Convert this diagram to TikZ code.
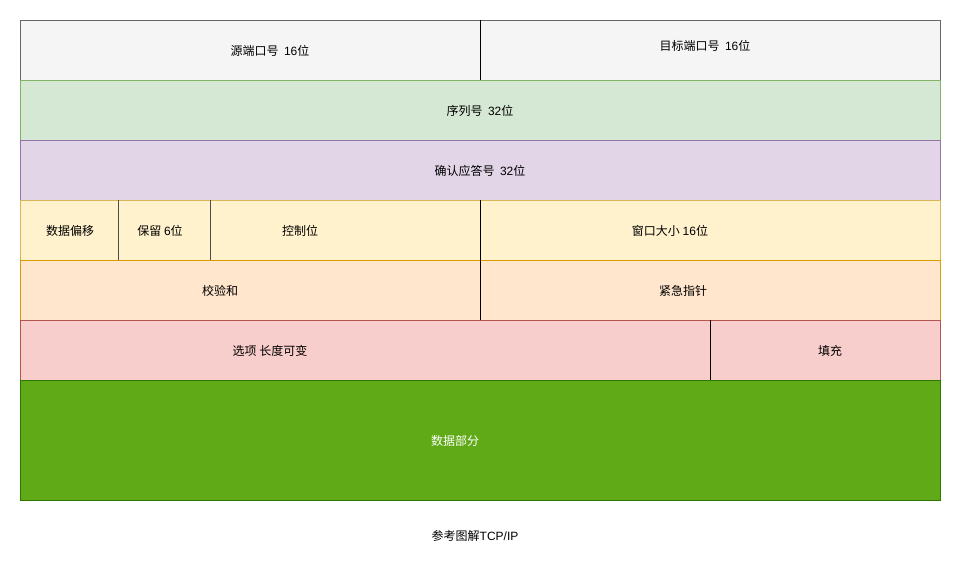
\documentclass[tikz,border=0pt]{standalone}
\usepackage{fontspec}
\setmainfont{Noto Sans CJK SC}
\newfontfamily\lat{Liberation Sans}
\definecolor{grayF}{HTML}{F5F5F5}\definecolor{grayS}{HTML}{666666}
\definecolor{greenF}{HTML}{D5E8D4}\definecolor{greenS}{HTML}{82B366}
\definecolor{purF}{HTML}{E1D5E7}\definecolor{purS}{HTML}{9673A6}
\definecolor{yelF}{HTML}{FFF2CC}\definecolor{yelS}{HTML}{D6B656}
\definecolor{orF}{HTML}{FFE6CC}\definecolor{orS}{HTML}{D79B00}
\definecolor{redF}{HTML}{F8CECC}\definecolor{redS}{HTML}{B85450}
\definecolor{dataF}{HTML}{60A917}\definecolor{dataS}{HTML}{2D7600}
\begin{document}
\begin{tikzpicture}[x=1pt,y=-1pt,
  row/.style={draw, line width=0.8pt, inner sep=0pt, minimum width=920pt, anchor=north west},
  txt/.style={inner sep=0pt, font=\fontsize{12}{14}\selectfont},
  divider/.style={draw=black, line width=0.8pt},
  graydiv/.style={draw=black!70, line width=0.8pt}]
\fill[white] (0,0) rectangle (961,571);
\useasboundingbox (0,0) rectangle (961,571);
\node[row, fill=grayF, draw=grayS, minimum height=60pt] (r1) at (20,20) {};
\node[row, fill=greenF, draw=greenS, minimum height=60pt] (r2) at (20,80) {};
\node[row, fill=purF, draw=purS, minimum height=60pt] (r3) at (20,140) {};
\node[row, fill=yelF, draw=yelS, minimum height=60pt] (r4) at (20,200) {};
\node[row, fill=orF, draw=orS, minimum height=60pt] (r5) at (20,260) {};
\node[row, fill=redF, draw=redS, minimum height=60pt] (r6) at (20,320) {};
\node[row, fill=dataF, draw=dataS, minimum height=120pt] (r7) at (20,380) {};
% dividers
\coordinate (a1) at (480,20); \coordinate (a2) at (480,80);
\coordinate (b1) at (118.5,200); \coordinate (b2) at (118.5,260);
\coordinate (c1) at (210.5,200); \coordinate (c2) at (210.5,260);
\coordinate (e1) at (480,200); \coordinate (e2) at (480,320);
\coordinate (f1) at (710,320); \coordinate (f2) at (710,380);
\draw[divider] (a1) -- (a2);
\draw[graydiv] (b1) -- (b2);
\draw[graydiv] (c1) -- (c2);
\draw[divider] (e1) -- (e2);
\draw[divider] (f1) -- (f2);
% texts
\node[txt] (t1) at (270,51) {源端口号\ \ {\lat 16}位};
\node[txt] (t2) at (705,46) {目标端口号\ \ {\lat 16}位};
\node[txt] (t3) at (480,111) {序列号\ \ {\lat 32}位};
\node[txt] (t4) at (480,171) {确认应答号\ \ {\lat 32}位};
\node[txt] (t5) at (70,231) {数据偏移};
\node[txt] (t6) at (160,231) {保留 {\lat 6}位};
\node[txt] (t7) at (300,231) {控制位};
\node[txt] (t8) at (670,231) {窗口大小 {\lat 16}位};
\node[txt] (t9) at (220,291) {校验和};
\node[txt] (t10) at (683,291) {紧急指针};
\node[txt] (t11) at (270,351) {选项 长度可变};
\node[txt] (t12) at (830,351) {填充};
\node[txt, text=white] (t13) at (455,441) {数据部分};
\node[txt] (cap) at (475,536) {参考图解{\lat TCP/IP}};
\end{tikzpicture}
\end{document}
